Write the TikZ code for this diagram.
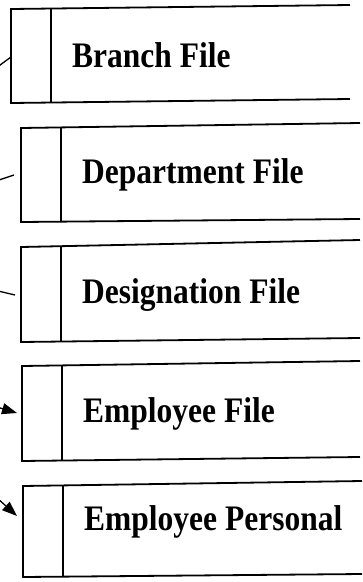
\documentclass[tikz,border=0pt]{standalone}
\usepackage{fontspec}
\usepackage{graphicx}
\setmainfont{Liberation Serif}
\usetikzlibrary{arrows.meta}
\newcommand{\tallbold}[1]{\scalebox{1}[1.14]{\bfseries\fontsize{31.5}{34}\selectfont #1}}
\begin{document}
\begin{tikzpicture}[x=1pt,y=-1pt,
  filebox/.style={line width=1.8pt},
  filelabel/.style={anchor=base west,inner sep=0pt},
  link/.style={line width=1.3pt},
  linkarrow/.style={line width=1.3pt,-{Triangle[length=15pt,width=11pt]}}]
\useasboundingbox (0,0) rectangle (363,582);
\clip (0,0) rectangle (363,582);

% open-ended file boxes: top, left side, bottom, plus the divider
\draw[filebox] (350,5) -- (11,9) -- (11,103) -- (350,99);
\draw[filebox] (51,8.5) -- (51,102.5);
\draw[filebox] (360,123) -- (21,128) -- (21,222) -- (360,219);
\draw[filebox] (61,127.5) -- (61,221.5);
\draw[filebox] (360,240) -- (21,247) -- (21,342) -- (360,338);
\draw[filebox] (61,246) -- (61,341.5);
\draw[filebox] (360,361) -- (22,366) -- (22,461) -- (360,457);
\draw[filebox] (62,365.5) -- (62,460.5);
\draw[filebox] (362,481) -- (23,486) -- (23,577) -- (362,574);
\draw[filebox] (63,485.5) -- (63,576.5);

% labels
\node[filelabel] (branch) at (72,67) {\tallbold{Branch File}};
\node[filelabel] (dept) at (82,183) {\tallbold{Department File}};
\node[filelabel] (desig) at (82,303) {\tallbold{Designation File}};
\node[filelabel] (emp) at (83,422) {\tallbold{Employee File}};
\node[filelabel] (pers) at (84,530) {\tallbold{Employee Personal}};

% connector ends
\coordinate (c1a) at (-4,68);   \coordinate (c1b) at (11,57);
\coordinate (c2a) at (-4,181);  \coordinate (c2b) at (14,175);
\coordinate (c3a) at (-4,290.5);\coordinate (c3b) at (15,295);
\coordinate (c4a) at (-20,402); \coordinate (c4b) at (17,413);
\coordinate (c5a) at (-14,488); \coordinate (c5b) at (17,516);

\draw[link] (c1a) -- (c1b);
\draw[link] (c2a) -- (c2b);
\draw[link] (c3a) -- (c3b);
\draw[linkarrow] (c4a) -- (c4b);
\draw[linkarrow] (c5a) -- (c5b);
\end{tikzpicture}
\end{document}
